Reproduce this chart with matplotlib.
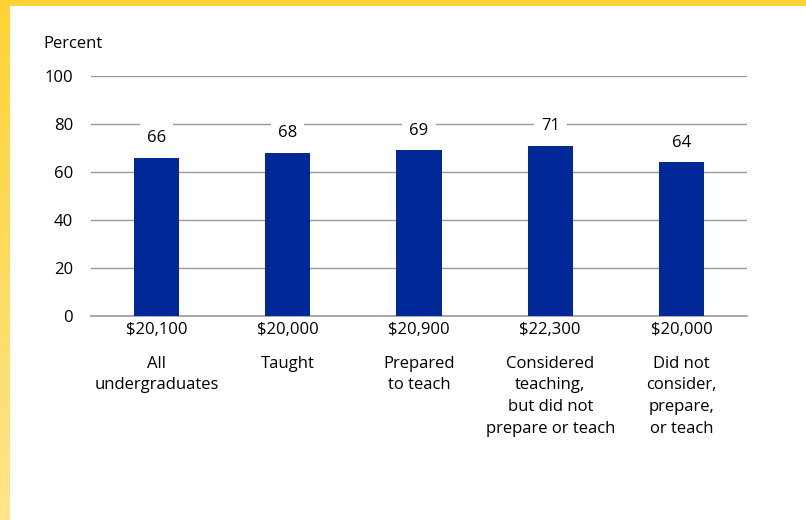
import numpy as np
import matplotlib.pyplot as plt
from matplotlib.colors import LinearSegmentedColormap

plt.rcParams['font.family'] = ['Open Sans', 'DejaVu Sans']

# data
earnings = ['$20,100', '$20,000', '$20,900', '$22,300', '$20,000']
groups = ['All\nundergraduates', 'Taught', 'Prepared\nto teach',
          'Considered\nteaching,\nbut did not\nprepare or teach',
          'Did not\nconsider,\nprepare,\nor teach']
percent = [66, 68, 69, 71, 64]

W, H = 806, 520
fig = plt.figure(figsize=(W / 100, H / 100), dpi=100)

# yellow frame (top band + left gradient band)
bg = fig.add_axes([0, 0, 1, 1])
bg.set_xlim(0, W)
bg.set_ylim(H, 0)
bg.axis('off')
cmap = LinearSegmentedColormap.from_list('yl', ['#ffd233', '#ffe58c'])
grad = np.linspace(0, 1, 256).reshape(-1, 1)
bg.imshow(grad, cmap=cmap, extent=[0, 10, H, 0], aspect='auto')
bg.add_patch(plt.Rectangle((0, 0), W, 6, color='#ffd233', lw=0))

ax = fig.add_axes([91 / W, (H - 316) / H, (747 - 91) / W, (316 - 76) / H])
ax.set_zorder(2)
ax.patch.set_alpha(0)
x = np.arange(len(percent))
ax.bar(x, percent, width=0.345, color='#002896', zorder=3)

ax.set_xlim(-0.5, len(percent) - 0.5)
ax.set_ylim(0, 100)
ax.set_yticks(range(0, 101, 20))
ax.grid(axis='y', color='#999999', lw=1, zorder=1)
ax.tick_params(axis='y', length=0, pad=13, labelsize=12, colors='black')
for s in ['top', 'right', 'left']:
    ax.spines[s].set_visible(False)
ax.spines['bottom'].set_color('#999999')
ax.spines['bottom'].set_linewidth(1.2)

ax.set_xticks(x)
ax.set_xticklabels(earnings, fontsize=12)
ax.tick_params(axis='x', length=0, pad=4)
for i, g in enumerate(groups):
    ax.annotate(g, (i, 0), xytext=(0, -28.5), textcoords='offset points',
                ha='center', va='top', fontsize=12, linespacing=1.49)

for i, v in enumerate(percent):
    ax.annotate(str(v), (i, v), xytext=(0, 14), textcoords='offset points',
                ha='center', va='center', fontsize=12, zorder=4,
                bbox=dict(facecolor='white', edgecolor='none', pad=5))

fig.text(43 / W, 1 - 44 / H, 'Percent', fontsize=12, va='center', ha='left')

plt.savefig('out.png', dpi=100)
